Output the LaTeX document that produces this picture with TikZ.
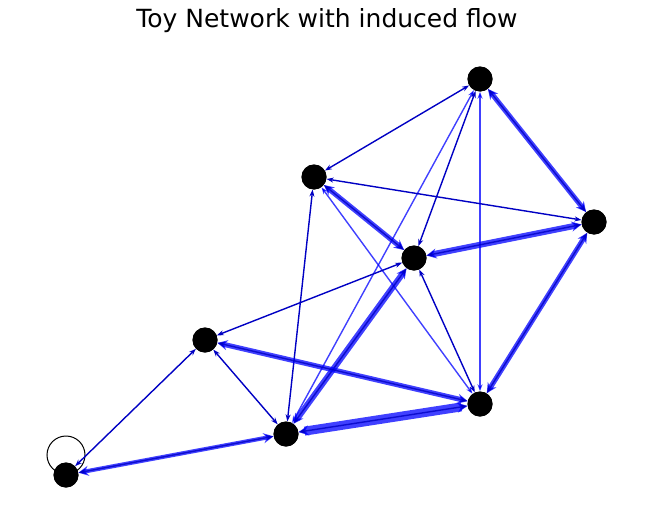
\documentclass[tikz,border=0pt]{standalone}
\usepackage{fontspec}
\setmainfont{DejaVu Sans}
\usetikzlibrary{arrows.meta}
\definecolor{flowblue}{RGB}{0,0,255}
\definecolor{darkflow}{RGB}{0,0,195}

\begin{document}
\begin{tikzpicture}[
    x=1pt,
    y=-1pt,
    vertex/.style={circle,fill=black,inner sep=0pt,minimum size=25pt},
    thinflow/.style={draw=darkflow,line width=1.4pt,
        {Stealth[length=7pt,width=5pt]}-{Stealth[length=7pt,width=5pt]}},
    weakflow/.style={draw=flowblue,draw opacity=0.75,line width=1.4pt,
        {Stealth[length=7pt,width=5pt]}-{Stealth[length=7pt,width=5pt]}},
    strongflow/.style={draw=flowblue,draw opacity=0.75,
        {Stealth[length=10pt,width=10pt]}-{Stealth[length=10pt,width=10pt]}}
]
\useasboundingbox (0,0) rectangle (660,527);

\node[font=\fontsize{25}{29}\selectfont] (title) at (327,21) {Toy Network with induced flow};

% vertices
\node[vertex] (A) at (480,79)  {};
\node[vertex] (B) at (314,177) {};
\node[vertex] (C) at (594,222) {};
\node[vertex] (D) at (414,258) {};
\node[vertex] (E) at (205,340) {};
\node[vertex] (F) at (480,404) {};
\node[vertex] (G) at (286,434) {};
\node[vertex] (H) at (66,475)  {};

% self loop
\draw[black,line width=1pt] ([yshift=20pt]H.center) circle (19pt);

% weak one-way flows
\foreach \a/\b in {A/F,A/G,B/F}{
    \draw[weakflow] (\a) -- (\b);
}

% small flows both ways
\foreach \a/\b in {A/B,A/D,B/C,B/G,D/E,D/F,E/G,E/H}{
    \draw[thinflow] (\a) -- (\b);
}

% strong flows
\foreach \a/\b/\w in {A/C/5,B/D/5,C/D/6,C/F/5,D/G/6,E/F/5,F/G/9,G/H/4}{
    \draw[strongflow,line width=\w pt] (\a) -- (\b);
    \draw[thinflow,draw opacity=0.8] (\a) -- (\b);
}

% vertices on top
\foreach \v in {A,B,C,D,E,F,G,H}{
    \fill[black] (\v) circle (12.5pt);
}

\end{tikzpicture}
\end{document}
